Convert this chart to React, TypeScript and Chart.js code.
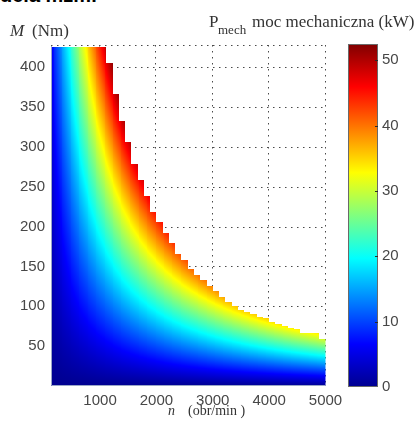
import React, { useEffect, useRef } from "react";
import { Chart, registerables } from "chart.js";

Chart.register(...registerables);

// ---- data ----
// speed axis ticks (rpm)
const speedTicks = [1000, 2000, 3000, 4000, 5000];
// torque axis ticks (Nm)
const torqueTicks = [50, 100, 150, 200, 250, 300, 350, 400];
// colour-bar ticks (kW)
const powerTicks = [0, 10, 20, 30, 40, 50];
// speed grid of the map: column edges (rpm)
const speedEdges = [
  111, 222, 333, 444, 556, 667, 778, 889, 1000, 1111, 1222, 1333, 1444, 1556,
  1667, 1778, 1889, 2000, 2111, 2222, 2333, 2444, 2556, 2667, 2778, 2889, 3000,
  3111, 3222, 3333, 3444, 3556, 3667, 3778, 3889, 4000, 4111, 4222, 4333, 4444,
  4556, 4667, 4778, 4889, 5000,
];
// highest torque reached in each speed column (Nm) - the staircase edge
const torqueLimit = [
  425, 425, 425, 425, 425, 425, 425, 425, 425, 405, 366, 333, 306, 279, 259,
  238, 219, 206, 192, 179, 166, 158, 147, 139, 133, 126, 119, 112, 106, 100,
  96, 93, 90, 86, 85, 80, 78, 75, 73, 72, 66, 66, 66, 59,
];
// axis ranges
const SPEED_MIN = 130;
const SPEED_MAX = 5000;
const TORQUE_MIN = 0;
const TORQUE_MAX = 428;
const POWER_MIN = 0;
const POWER_MAX = 52.5;

// mechanical power P = 2*pi*n*M/60 (kW) - quantity shown by the colour
const torqueForPower = (p: number, n: number) => (p * 30000) / (Math.PI * n);

// MATLAB "jet" colormap breakpoints
const jetStops: [number, string][] = [
  [0, "#00008f"],
  [0.125, "#0000ff"],
  [0.375, "#00ffff"],
  [0.625, "#ffff00"],
  [0.875, "#ff0000"],
  [1, "#800000"],
];

const TICK_FONT = { family: "'Liberation Sans', Arial, sans-serif", size: 15 };
const TICK_COLOR = "#474747";
const SERIF = "'Liberation Serif', 'Times New Roman', serif";
const plain = (v: any) => String(v);

const mapPlugin = {
  id: "powerMap",
  beforeDatasetsDraw(chart: any) {
    const { ctx, chartArea: a, scales } = chart;
    const x = scales.x;
    const y = scales.y;
    ctx.save();
    // dotted grid (sits under the map)
    ctx.strokeStyle = "#4a4a4a";
    ctx.lineWidth = 1;
    ctx.setLineDash([1.5, 4.5]);
    for (const v of [...torqueTicks, TORQUE_MAX]) {
      const py = Math.round(y.getPixelForValue(v)) + 0.5;
      ctx.beginPath();
      ctx.moveTo(a.left, py);
      ctx.lineTo(a.right, py);
      ctx.stroke();
    }
    for (const v of speedTicks) {
      const px = Math.round(x.getPixelForValue(v)) - 0.5;
      ctx.beginPath();
      ctx.moveTo(px, a.top);
      ctx.lineTo(px, a.bottom);
      ctx.stroke();
    }
    ctx.setLineDash([]);
    ctx.beginPath();
    ctx.rect(a.left, a.top, a.right - a.left, a.bottom - a.top);
    ctx.clip();
    const yBot = y.getPixelForValue(TORQUE_MIN);
    for (let i = 0; i < torqueLimit.length; i++) {
      const n0 = speedEdges[i];
      const n1 = speedEdges[i + 1];
      const yTop = Math.round(y.getPixelForValue(torqueLimit[i]));
      const p0 = x.getPixelForValue(n0);
      const p1 = x.getPixelForValue(n1);
      const sub = Math.max(1, Math.ceil(p1 - p0));
      for (let s = 0; s < sub; s++) {
        const nA = n0 + ((n1 - n0) * s) / sub;
        const nB = n0 + ((n1 - n0) * (s + 1)) / sub;
        const xa = Math.round(x.getPixelForValue(nA));
        const xb = Math.round(x.getPixelForValue(nB));
        if (xb <= xa) continue;
        const mFull = torqueForPower(POWER_MAX, (nA + nB) / 2);
        const g = ctx.createLinearGradient(0, yBot, 0, y.getPixelForValue(mFull));
        jetStops.forEach(([t, c]) => g.addColorStop(t, c));
        ctx.fillStyle = g;
        ctx.fillRect(xa, yTop, xb - xa, Math.ceil(yBot) - yTop);
      }
    }
    ctx.restore();
  },
  afterDatasetsDraw(chart: any) {
    const { ctx, chartArea: a } = chart;
    ctx.save();
    ctx.strokeStyle = "#9aa6c8";
    ctx.lineWidth = 1;
    ctx.beginPath();
    ctx.moveTo(a.left + 0.5, a.top + 1);
    ctx.lineTo(a.left + 0.5, a.bottom - 0.5);
    ctx.lineTo(a.right, a.bottom - 0.5);
    ctx.stroke();
    ctx.restore();
  },
};

const colorBarPlugin = {
  id: "colorBar",
  beforeDatasetsDraw(chart: any) {
    const { ctx, chartArea: a, scales } = chart;
    const y = scales.y;
    ctx.save();
    const g = ctx.createLinearGradient(0, y.getPixelForValue(POWER_MIN), 0, y.getPixelForValue(POWER_MAX));
    jetStops.forEach(([t, c]) => g.addColorStop(t, c));
    ctx.fillStyle = g;
    ctx.fillRect(a.left, a.top, a.right - a.left, a.bottom - a.top);
    ctx.strokeStyle = "#6a6a6a";
    ctx.lineWidth = 1;
    ctx.strokeRect(a.left + 0.5, a.top + 0.5, a.right - a.left - 1, a.bottom - a.top - 1);
    ctx.strokeStyle = "#2a2a2a";
    for (const v of powerTicks) {
      if (v === POWER_MIN) continue;
      const py = Math.round(y.getPixelForValue(v)) + 0.5;
      ctx.beginPath();
      ctx.moveTo(a.right - 3, py);
      ctx.lineTo(a.right, py);
      ctx.stroke();
    }
    ctx.restore();
  },
};

const noPad = (s: any) => {
  s.paddingLeft = 0;
  s.paddingRight = 0;
  s.paddingTop = 0;
  s.paddingBottom = 0;
};

const txt = (left: number, baseline: number, size: number, extra: any = {}) => ({
  position: "absolute" as const,
  left,
  top: baseline - 0.84 * size,
  fontSize: size,
  lineHeight: `${size}px`,
  fontFamily: SERIF,
  color: "#333",
  whiteSpace: "nowrap" as const,
  ...extra,
});

export default function App() {
  const mainRef = useRef<HTMLCanvasElement>(null);
  const barRef = useRef<HTMLCanvasElement>(null);

  useEffect(() => {
    const main = new Chart(mainRef.current as HTMLCanvasElement, {
      type: "scatter",
      data: { datasets: [{ data: [] }] },
      options: {
        animation: false,
        responsive: false,
        layout: { padding: { top: 45, right: 88.5, left: 0, bottom: 0 } },
        plugins: { legend: { display: false }, tooltip: { enabled: false } },
        scales: {
          x: {
            type: "linear",
            min: SPEED_MIN,
            max: SPEED_MAX,
            afterBuildTicks: (s: any) => {
              s.ticks = speedTicks.map((v) => ({ value: v }));
            },
            afterFit: (s: any) => {
              s.height = 39;
              noPad(s);
            },
            grid: { display: false, drawTicks: false },
            border: { display: false },
            ticks: { font: TICK_FONT, color: TICK_COLOR, padding: 6, maxRotation: 0, autoSkip: false, callback: plain },
          },
          y: {
            type: "linear",
            min: TORQUE_MIN,
            max: TORQUE_MAX,
            afterBuildTicks: (s: any) => {
              s.ticks = torqueTicks.map((v) => ({ value: v }));
            },
            afterFit: (s: any) => {
              s.width = 51;
              noPad(s);
            },
            grid: { display: false, drawTicks: false },
            border: { display: false },
            ticks: { font: TICK_FONT, color: TICK_COLOR, padding: 6, autoSkip: false, callback: plain },
          },
        },
      } as any,
      plugins: [mapPlugin],
    });

    const bar = new Chart(barRef.current as HTMLCanvasElement, {
      type: "scatter",
      data: { datasets: [{ data: [] }] },
      options: {
        animation: false,
        responsive: false,
        layout: { padding: { top: 44, right: 0, left: 18, bottom: 38 } },
        plugins: { legend: { display: false }, tooltip: { enabled: false } },
        scales: {
          x: { type: "linear", display: false, min: 0, max: 1 },
          y: {
            type: "linear",
            position: "right",
            min: POWER_MIN,
            max: POWER_MAX,
            afterBuildTicks: (s: any) => {
              s.ticks = powerTicks.map((v) => ({ value: v }));
            },
            afterFit: (s: any) => {
              s.width = 36;
              noPad(s);
            },
            grid: { display: false, drawTicks: false },
            border: { display: false },
            ticks: { font: TICK_FONT, color: TICK_COLOR, padding: 4, autoSkip: false, callback: plain },
          },
        },
      } as any,
      plugins: [colorBarPlugin],
    });

    return () => {
      main.destroy();
      bar.destroy();
    };
  }, []);

  return (
    <div
      style={{
        position: "absolute",
        left: 0,
        top: 0,
        width: 414,
        height: 425,
        overflow: "hidden",
        background: "#fff",
      }}
    >
      <div
        style={{
          position: "absolute",
          left: 0,
          top: -15,
          fontFamily: "'Liberation Sans', Arial, sans-serif",
          fontWeight: "bold",
          fontSize: 20,
          lineHeight: "20px",
          color: "#000",
          whiteSpace: "nowrap",
        }}
      >
        dela mzm.
      </div>
      <canvas ref={mainRef} width={414} height={425} style={{ position: "absolute", left: 0, top: 0 }} />
      <canvas ref={barRef} width={84} height={425} style={{ position: "absolute", left: 330, top: 0 }} />
      <span style={txt(10, 36, 17, { fontStyle: "italic" })}>M</span>
      <span style={txt(32, 36, 17)}>(Nm)</span>
      <span style={txt(209, 27, 17)}>P</span>
      <span style={txt(218, 33.5, 13)}>mech</span>
      <span style={txt(252, 27, 17)}>moc mechaniczna (kW)</span>
      <span style={txt(168, 416, 14, { fontStyle: "italic" })}>n</span>
      <span style={txt(188, 416, 14)}>(obr/min )</span>
    </div>
  );
}
